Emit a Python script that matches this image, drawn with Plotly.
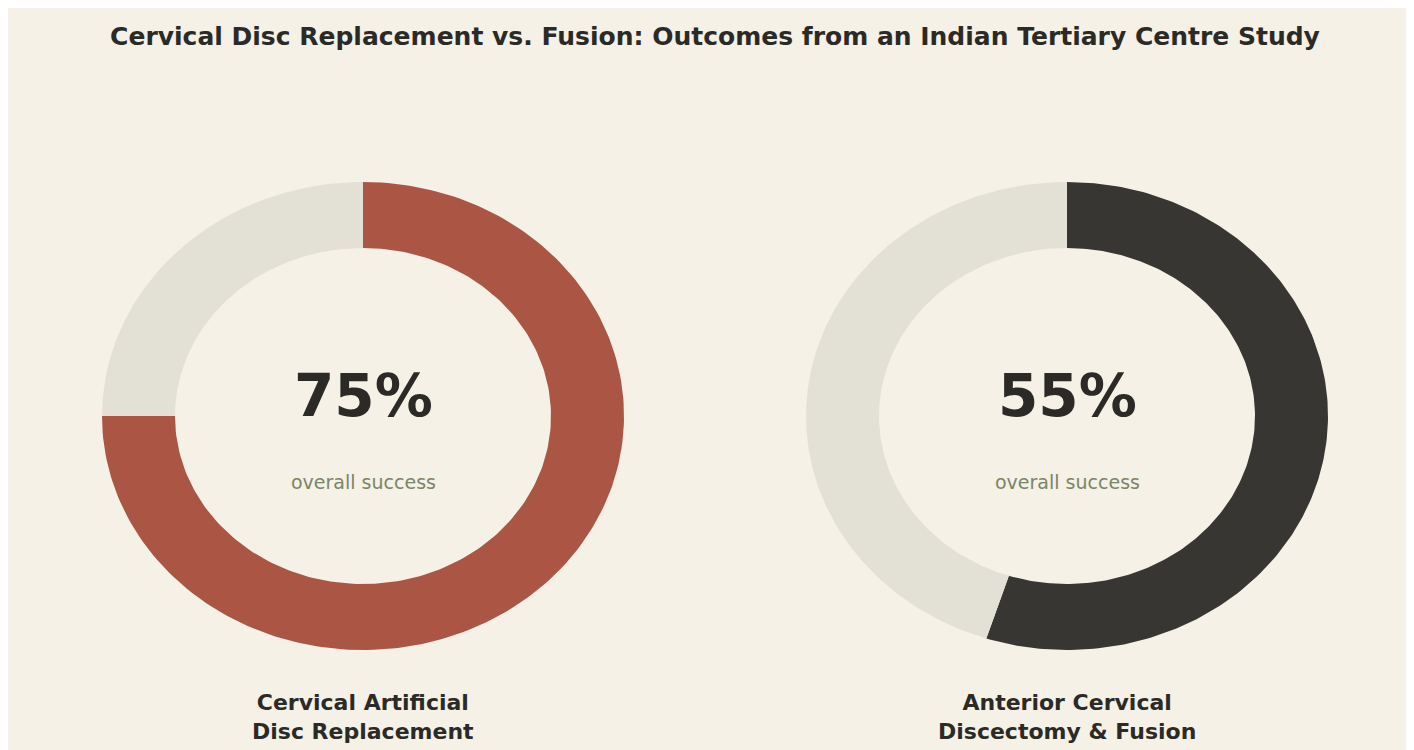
import numpy as np
import plotly.graph_objects as go

labels = ["Cervical Artificial<br>Disc Replacement", "Anterior Cervical<br>Discectomy & Fusion"]
success = [75, 55]
colors = ["#AB5544", "#383632"]
rest_color = "#E3E1D6"

W, H = 1414, 750
centers = [355, 1059]
cy = 408
rx_o, ry_o = 261, 234
rx_i, ry_i = 188, 168

fig = go.Figure()

def arc(cx, f0, f1, color):
    t = np.linspace(f0, f1, 200) * 2 * np.pi
    xo = cx + rx_o * np.sin(t); yo = cy - ry_o * np.cos(t)
    xi = cx + rx_i * np.sin(t[::-1]); yi = cy - ry_i * np.cos(t[::-1])
    fig.add_trace(go.Scatter(x=np.r_[xo, xi, xo[:1]], y=np.r_[yo, yi, yo[:1]],
                             fill="toself", fillcolor=color, mode="lines",
                             line=dict(width=0, color=color), hoverinfo="skip", showlegend=False))

for cx, v, c, lab in zip(centers, success, colors, labels):
    arc(cx, 0, v / 100, c)
    arc(cx, v / 100, 1, rest_color)
    fig.add_annotation(x=cx, y=388, text=f"<b>{v}%</b>", showarrow=False,
                       font=dict(size=58, color="#2B2A26", family="DejaVu Sans"))
    fig.add_annotation(x=cx, y=474, text="overall success", showarrow=False,
                       font=dict(size=19, color="#7B8466", family="DejaVu Sans"))
    fig.add_annotation(x=cx, y=709, text=f"<b>{lab}</b>", showarrow=False,
                       font=dict(size=22, color="#2B2A26", family="DejaVu Sans"))

fig.update_layout(
    width=W, height=H, margin=dict(l=0, r=0, t=0, b=0),
    paper_bgcolor="#F5F1E6", plot_bgcolor="#F5F1E6",
    xaxis=dict(range=[0, W], visible=False, fixedrange=True),
    yaxis=dict(range=[H, 0], visible=False, fixedrange=True),
    title=dict(text="<b>Cervical Disc Replacement vs. Fusion: Outcomes from an Indian Tertiary Centre Study</b>",
               x=0.5, xanchor="center", y=1 - 28 / H, yanchor="middle",
               font=dict(size=25, color="#2B2A26", family="DejaVu Sans")),
)
fig.write_html("out.html")
